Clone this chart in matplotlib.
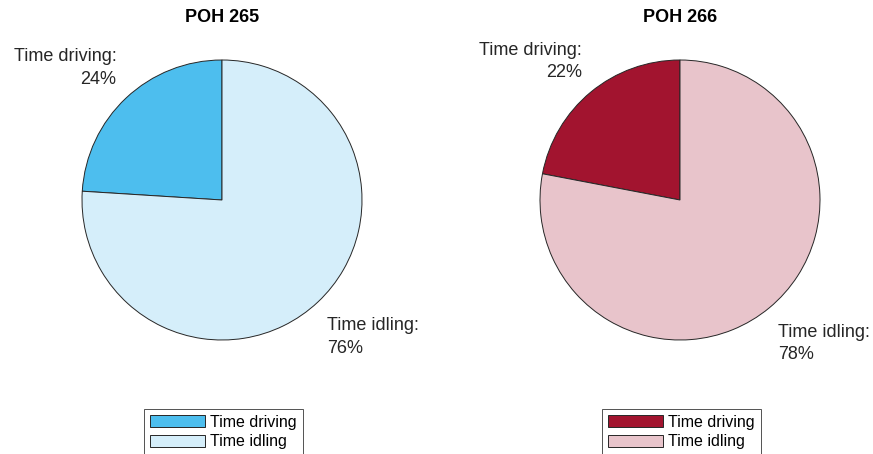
import matplotlib
matplotlib.use("Agg")
import matplotlib.pyplot as plt
import matplotlib.transforms as mtransforms
from matplotlib.patches import Patch

plt.rcParams['font.family'] = ['Liberation Sans', 'DejaVu Sans']

titles = ["POH 265", "POH 266"]
categories = ["Time driving", "Time idling"]
values = [[24, 76], [22, 78]]
colors = [["#4DBEEE", "#D5EEFA"], ["#A2142F", "#E8C4CB"]]

W, H = 873, 454
fig = plt.figure(figsize=(W / 100, H / 100), dpi=100)

R = 140  # pixel radius
centers = [(222, 200), (680, 200)]
legend_left = [144, 602]

for i in range(2):
    cx, cy = centers[i]
    lim = 1.0
    ax = fig.add_axes([(cx - R) / W, (H - cy - R) / H, 2 * R / W, 2 * R / H])
    ax.set_xlim(-lim, lim)
    ax.set_ylim(-lim, lim)
    ax.set_aspect('equal')
    ax.axis('off')
    wedges, texts = ax.pie(values[i], colors=colors[i], startangle=90, counterclock=True,
                           radius=1.0, labels=[f"{c}:\n{v}%" for c, v in zip(categories, values[i])],
                           labeldistance=1.1,
                           wedgeprops=dict(edgecolor='#262626', linewidth=0.7),
                           textprops=dict(fontsize=13, color='#262626'))
    for t in texts:
        t.set_clip_on(False)
        x, y = t.get_position()
        t.set_ha('right' if x < 0 else 'left')
        t.set_va('bottom' if y > 0 else 'top')
        t.set_multialignment('right' if x < 0 else 'left')
        t.set_linespacing(1.42)
        if y < 0:
            t.set_transform(mtransforms.offset_copy(ax.transData, fig=fig, x=0, y=-5, units='dots'))
    ax.set_xlim(-lim, lim)
    ax.set_ylim(-lim, lim)
    fig.text(cx / W, 1 - 18 / H, titles[i], ha='center', va='center', fontsize=13,
             fontweight='bold', color='black')
    handles = [Patch(facecolor=colors[i][k], edgecolor='#262626', linewidth=0.7, label=categories[k])
               for k in range(2)]
    leg = fig.legend(handles=handles, loc='upper left',
                     bbox_to_anchor=(legend_left[i] / W, 1 - 409 / H),
                     fontsize=11.5, frameon=True, fancybox=False, borderpad=0.35,
                     handlelength=3.5, handleheight=0.8, handletextpad=0.3,
                     labelspacing=0.3, borderaxespad=0)
    leg.get_frame().set_edgecolor('#262626')
    leg.get_frame().set_linewidth(0.7)

fig.savefig("out.png", dpi=100)
